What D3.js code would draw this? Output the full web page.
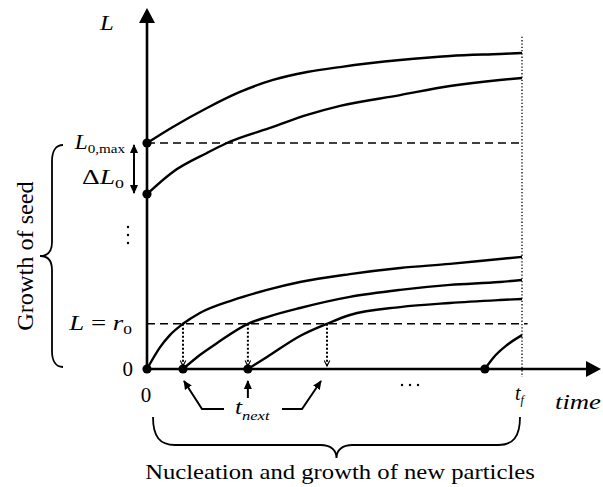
<!DOCTYPE html>
<html>
<head>
<meta charset="utf-8">
<script src="https://cdn.jsdelivr.net/npm/d3@7"></script>
<style>
  html, body { margin: 0; padding: 0; background: #fff; }
  svg { display: block; }
  text { font-family: 'Liberation Serif', 'Times New Roman', Times, serif; }
</style>
</head>
<body>
<svg id="chart" width="603" height="487"></svg>
<script>
// ---- data (time in units of t_f / 10, size L in arbitrary units) ----
const tFinal = 10;
const r0 = 2;
const L0max = 10;
const L0low = 7.74;

// seed particles
const seedTopT = [0, 0.69, 1.6, 2.48, 3.36, 4.27, 5.15, 6.75, 8.08, 9.41, 10];
const seedTopL = [10, 10.71, 11.55, 12.26, 12.79, 13.14, 13.36, 13.67, 13.85, 13.94, 13.98];
const seedLowT = [0, 0.69, 1.6, 2.13, 3.36, 4.27, 5.15, 6.75, 8.08, 9.41, 10];
const seedLowL = [7.74, 8.72, 9.56, 10, 10.71, 11.24, 11.64, 12.12, 12.52, 12.79, 12.88];

// newly nucleated particles
const nucleationTimes = [0, 0.96, 2.69, 9.01];
const newAT = [0, 0.35, 0.61, 0.96, 1.41, 2.29, 3.2, 4.08, 5.41, 6.75, 8.08, 9.41, 10];
const newAL = [0, 0.97, 1.5, 2.0, 2.48, 3.05, 3.5, 3.85, 4.2, 4.47, 4.65, 4.87, 4.96];
const newBT = [0.96, 1.41, 1.87, 2.69, 3.2, 4.08, 5.41, 6.75, 8.08, 9.41, 10];
const newBL = [0, 0.62, 1.15, 2.0, 2.3, 2.7, 3.19, 3.5, 3.72, 3.85, 3.94];
const newCT = [2.69, 3.2, 4.08, 4.8, 5.41, 6.75, 8.08, 9.41, 10];
const newCL = [0, 0.53, 1.46, 2.0, 2.39, 2.74, 2.92, 3.05, 3.1];
const newDT = [9.01, 9.23, 9.6, 10];
const newDL = [0, 0.49, 1.06, 1.5];
// times at which each new particle reaches the critical size r0
const criticalTimes = [0.96, 2.69, 4.8];

// ---- scales ----
const x = d3.scaleLinear().domain([0, tFinal]).range([147, 522]);
const y = d3.scaleLinear().domain([0, L0max]).range([369, 143]);

const svg = d3.select("#chart");
const defs = svg.append("defs");

defs.append("marker").attr("id", "tri")
  .attr("viewBox", "0 0 10 10").attr("refX", 9).attr("refY", 5)
  .attr("markerUnits", "userSpaceOnUse").attr("markerWidth", 9).attr("markerHeight", 9)
  .attr("orient", "auto-start-reverse")
  .append("path").attr("d", "M0,0.5 L10,5 L0,9.5 Z").attr("fill", "#000");

defs.append("marker").attr("id", "chev")
  .attr("viewBox", "0 0 10 10").attr("refX", 9).attr("refY", 5)
  .attr("markerUnits", "userSpaceOnUse").attr("markerWidth", 7).attr("markerHeight", 7)
  .attr("orient", "auto")
  .append("path").attr("d", "M1,1 L9,5 L1,9").attr("fill", "none")
  .attr("stroke", "#000").attr("stroke-width", 1.6);

// ---- reference lines ----
svg.append("line")
  .attr("x1", x(0)).attr("x2", x(tFinal)).attr("y1", y(L0max)).attr("y2", y(L0max))
  .attr("stroke", "#000").attr("stroke-width", 1.5).attr("stroke-dasharray", "8,5");
svg.append("line")
  .attr("x1", x(0)).attr("x2", x(10.15)).attr("y1", y(r0)).attr("y2", y(r0))
  .attr("stroke", "#000").attr("stroke-width", 1.5).attr("stroke-dasharray", "8,5");
svg.append("line")
  .attr("x1", x(tFinal)).attr("x2", x(tFinal)).attr("y1", y(14.7)).attr("y2", y(-0.35))
  .attr("stroke", "#000").attr("stroke-width", 1.3).attr("stroke-dasharray", "1.3,2");

// ---- growth curves ----
const line = d3.line().x(d => x(d[0])).y(d => y(d[1])).curve(d3.curveMonotoneX);
const curves = [
  [seedTopT, seedTopL], [seedLowT, seedLowL],
  [newAT, newAL], [newBT, newBL], [newCT, newCL], [newDT, newDL]
];
svg.selectAll("path.growth").data(curves).join("path")
  .attr("class", "growth")
  .attr("d", c => line(c[0].map((t, i) => [t, c[1][i]])))
  .attr("fill", "none").attr("stroke", "#000").attr("stroke-width", 2.4);

// dotted drops from r0 to the time axis
svg.selectAll("line.drop").data(criticalTimes).join("line")
  .attr("class", "drop")
  .attr("x1", d => x(d)).attr("x2", d => x(d))
  .attr("y1", y(r0)).attr("y2", y(0) - 3)
  .attr("stroke", "#000").attr("stroke-width", 2).attr("stroke-dasharray", "2,2")
  .attr("marker-end", "url(#chev)");

// ---- axes ----
svg.append("line")
  .attr("x1", x(0)).attr("x2", x(0)).attr("y1", y(0)).attr("y2", 22)
  .attr("stroke", "#000").attr("stroke-width", 2.6);
svg.append("path").attr("d", `M${x(0)},8 L${x(0) - 8},23 L${x(0) + 8},23 Z`).attr("fill", "#000");
svg.append("line")
  .attr("x1", x(0)).attr("x2", 588).attr("y1", y(0)).attr("y2", y(0))
  .attr("stroke", "#000").attr("stroke-width", 2.6);
svg.append("path").attr("d", `M601,${y(0)} L586,${y(0) - 8} L586,${y(0) + 8} Z`).attr("fill", "#000");

// ---- points ----
const startPoints = [[0, L0max], [0, L0low]].concat(nucleationTimes.map(t => [t, 0]));
svg.selectAll("circle.pt").data(startPoints).join("circle")
  .attr("class", "pt")
  .attr("cx", d => x(d[0])).attr("cy", d => y(d[1])).attr("r", 4.6).attr("fill", "#000");

// ΔL0 double arrow
svg.append("line")
  .attr("x1", 134).attr("x2", 134).attr("y1", y(L0max) + 2).attr("y2", y(L0low) - 1)
  .attr("stroke", "#000").attr("stroke-width", 2)
  .attr("marker-start", "url(#tri)").attr("marker-end", "url(#tri)");

// ---- labels ----
// text element; parts = [[string, size, dy, italic], ...]
function label(px, py, anchor, parts, width) {
  const t = svg.append("text").attr("x", px).attr("y", py)
    .attr("text-anchor", anchor).attr("fill", "#000");
  parts.forEach(([s, size, dy, it]) => {
    const ts = t.append("tspan").attr("font-size", size).attr("dy", dy).text(s);
    if (it) ts.attr("font-style", "italic");
  });
  if (width) {
    const w = t.node().getBBox().width;
    const k = width / w;
    t.attr("transform", `translate(${px},0) scale(${k},1) translate(${-px},0)`);
  }
  return t;
}

label(100, 30, "start", [["L", 20, 0, true]], 15);
label(125, y(L0max) + 6, "end", [["L", 20, 0, true], ["0,max", 13, 4, false]], 52);
label(124, 184, "end", [["Δ", 20, 0, false], ["L", 20, 0, true], ["0", 13, 4, false]], 42);
label(132, y(r0) + 6, "end",
  [["L", 20, 0, true], [" = ", 20, 0, false], ["r", 20, 0, true], ["0", 13, 4, false]], 64);
label(133, y(0) + 7, "end", [["0", 21, 0, false]]);
label(x(0) - 1, 402, "middle", [["0", 21, 0, false]]);
label(x(tFinal) - 7, 400, "start", [["t", 20, 0, true], ["f", 12, 4, true]]);
label(555, 409, "start", [["time", 21, 0, true]], 46);
label(235, 414, "start", [["t", 20, 0, true], ["next", 13, 6, true]], 35);

// ellipses along the axes
const dotRow = [-8, 0, 8];
svg.selectAll("circle.vdots").data(dotRow).join("circle").attr("class", "vdots")
  .attr("cx", 128).attr("cy", d => 235 + d).attr("r", 1.2).attr("fill", "#000");
svg.selectAll("circle.hdots").data(dotRow).join("circle").attr("class", "hdots")
  .attr("cx", d => 410 + d).attr("cy", 385).attr("r", 1.2).attr("fill", "#000");

// pointers from t_next to the nucleation instants
const pointer = pts => svg.append("path")
  .attr("d", d3.line()(pts)).attr("fill", "none")
  .attr("stroke", "#000").attr("stroke-width", 2).attr("marker-end", "url(#tri)");
pointer([[224, 409], [202, 409], [x(nucleationTimes[1]) + 1, 381]]);
pointer([[x(nucleationTimes[2]), 398], [x(nucleationTimes[2]), 381]]);
pointer([[282, 409], [302, 409], [321, 381]]);

// curly braces
const bx0 = x(0) + 6, bx1 = x(tFinal) - 2, bm = (bx0 + bx1) / 2;
svg.append("path")
  .attr("d", `M${bx0},417 C${bx0},437 ${bx0 + 7},445 ${bx0 + 22},445 L${bm - 16},445 ` +
             `C${bm - 6},445 ${bm},450 ${bm},458 C${bm},450 ${bm + 6},445 ${bm + 16},445 ` +
             `L${bx1 - 22},445 C${bx1 - 7},445 ${bx1},437 ${bx1},417`)
  .attr("fill", "none").attr("stroke", "#000").attr("stroke-width", 1.8);

const by0 = y(L0max) + 2, by1 = y(0) - 2, bym = (by0 + by1) / 2;
svg.append("path")
  .attr("d", `M63,${by0} C56,${by0} 52,${by0 + 6} 52,${by0 + 16} L52,${bym - 14} ` +
             `C52,${bym - 5} 48,${bym} 40,${bym} C48,${bym} 52,${bym + 5} 52,${bym + 14} ` +
             `L52,${by1 - 16} C52,${by1 - 6} 56,${by1} 63,${by1}`)
  .attr("fill", "none").attr("stroke", "#000").attr("stroke-width", 1.8);

// rotated seed label, stretched to span the brace
const seedText = svg.append("text")
  .attr("text-anchor", "middle").attr("font-size", 23)
  .attr("fill", "#000").text("Growth of seed");
const sw = seedText.node().getBBox().width;
seedText.attr("transform", `translate(33,${bym}) rotate(-90) scale(${150 / sw},1)`);

label(340, 479, "middle", [["Nucleation and growth of new particles", 22, 0, false]], 390);
</script>
</body>
</html>
